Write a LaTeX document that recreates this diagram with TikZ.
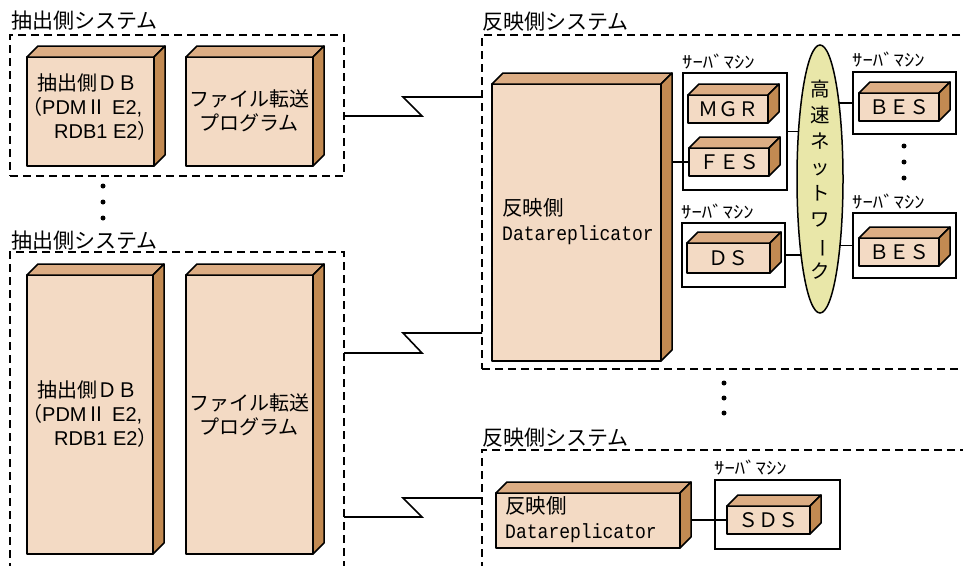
\documentclass[tikz,border=0pt]{standalone}
\usepackage{fontspec}
\setmainfont{Noto Sans CJK JP}
\newfontfamily\dmono[FakeStretch=0.88]{Liberation Mono}
\newfontfamily\lat{Liberation Sans}
\usetikzlibrary{shapes.geometric,backgrounds,calc}
\definecolor{cfront}{HTML}{F3DAC4}
\definecolor{ctop}{HTML}{DCAD84}
\definecolor{cside}{HTML}{C28A52}
\definecolor{cnet}{HTML}{E9E7A9}
\tikzset{
  cubefront/.style={rectangle,fill=cfront,draw=black,line width=1.5pt,inner sep=0pt,outer sep=0pt,line join=round},
  cubetop/.style={fill=ctop,draw=black,line width=1.5pt,line join=round},
  cubeside/.style={fill=cside,draw=black,line width=1.5pt,line join=round},
  sysbox/.style={rectangle,draw=black,line width=1.4pt,dash pattern=on 8pt off 5pt,inner sep=0pt,outer sep=0pt},
  srvbox/.style={rectangle,draw=black,line width=1.4pt,inner sep=0pt,outer sep=0pt},
  title/.style={anchor=west,inner sep=0pt,font=\fontsize{21}{24}\selectfont},
  boxtext/.style={inner sep=0pt,font=\fontsize{20}{24.5}\selectfont},
  dbtextstyle/.style={anchor=west,inner sep=0pt,align=left,font=\fontsize{20}{24}\selectfont},
  drtext/.style={anchor=west,inner sep=0pt,align=left,font=\fontsize{20.5}{25}\selectfont},
  lettext/.style={inner sep=0pt,font=\fontsize{20}{22}\selectfont},
  srvlabel/.style={anchor=west,inner sep=0pt,font=\fontsize{17}{18}\selectfont},
  conn/.style={draw=black,line width=1.6pt},
  dot/.style={circle,fill=black,inner sep=0pt,minimum size=5pt},
}
\newcommand{\cube}[5]{%
  \node[cubefront,minimum width=#4pt,minimum height=#5pt,anchor=north west] (#1) at (#2,#3) {};
  \filldraw[cubetop] (#1.north west) -- ++(11,-11) -- ++(#4,0) -- (#1.north east) -- cycle;
  \filldraw[cubeside] (#1.north east) -- ++(11,-11) -- ++(0,#5) -- (#1.south east) -- cycle;
}
\newcommand{\srvlab}{\scalebox{1.22}[1]{ｻｰﾊﾞﾏｼﾝ}}
\newcommand{\dbtext}{抽出側ＤＢ\\\hspace*{-15pt}（{\lat PDM}Ⅱ{\lat\ E2,}\\\hspace*{17pt}{\lat RDB1 E2}）}
\begin{document}
\begin{tikzpicture}[x=1pt,y=-1pt]
\useasboundingbox (0,0) rectangle (963,565);
\clip (0,0) rectangle (963,565);

% system frames
\node[sysbox,minimum width=334pt,minimum height=141pt,anchor=north west] (sysA) at (10,35) {};
\node[sysbox,minimum width=334pt,minimum height=360pt,anchor=north west] (sysB) at (10,252) {};
\node[sysbox,minimum width=540pt,minimum height=334pt,anchor=north west] (sysR1) at (482,35) {};
\node[sysbox,minimum width=540pt,minimum height=160pt,anchor=north west] (sysR2) at (482,450) {};

\node[title] (tA) at (11,21) {抽出側システム};
\node[title] (tB) at (11,241) {抽出側システム};
\node[title] (tR1) at (482,22) {反映側システム};
\node[title] (tR2) at (482,438) {反映側システム};

% server machine frames
\node[srvbox,minimum width=104pt,minimum height=117pt,anchor=north west] (srv1) at (683,73) {};
\node[srvbox,minimum width=103pt,minimum height=64pt,anchor=north west] (srv2) at (682,223) {};
\node[srvbox,minimum width=103pt,minimum height=62pt,anchor=north west] (srvb1) at (853,72) {};
\node[srvbox,minimum width=103pt,minimum height=65pt,anchor=north west] (srvb2) at (853,213) {};
\node[srvbox,minimum width=125pt,minimum height=69pt,anchor=north west] (srv3) at (715,480) {};

\node[srvlabel] (l1) at (682,62) {\srvlab};
\node[srvlabel] (l2) at (681,212) {\srvlab};
\node[srvlabel] (l3) at (852,60) {\srvlab};
\node[srvlabel] (l4) at (852,202) {\srvlab};
\node[srvlabel] (l5) at (714,468) {\srvlab};

% network
\node[ellipse,fill=cnet,draw=black,line width=1.5pt,minimum width=46pt,minimum height=268pt,inner sep=0pt] (net) at (820,179) {};
\node[inner sep=0pt,align=center,font=\fontsize{19.5}{26}\selectfont] (nettext) at (820,180)
  {高\\速\\ネ\\ッ\\ト\\ワ\\\rotatebox[origin=c]{-90}{ー}\\ク};

% cubes
\cube{db1}{27}{57}{127}{109}
\cube{fp1}{186}{57}{127}{109}
\cube{db2}{27}{275}{126}{279}
\cube{fp2}{186}{275}{127}{279}
\cube{dr1}{492}{84}{169}{277}
\cube{mgr}{688}{95}{80}{28}
\cube{fes}{689}{148}{80}{28}
\cube{ds}{687}{243}{83}{30}
\cube{bes1}{859}{93}{80}{28}
\cube{bes2}{859}{238}{80}{28}
\cube{dr2}{496}{493}{184}{55}
\cube{sds}{727}{506}{83}{28}

% cube texts
\node[dbtextstyle] (db1t) at (37,107) {\dbtext};
\node[boxtext,align=center] (fp1t) at (249,111) {ファイル転送\\プログラム};
\node[dbtextstyle] (db2t) at (37,414) {\dbtext};
\node[boxtext,align=center] (fp2t) at (249,415) {ファイル転送\\プログラム};
\node[drtext] (dr1t) at (502,222) {反映側\\{\dmono Datareplicator}};
\node[drtext] (dr2t) at (505,520) {反映側\\{\dmono Datareplicator}};
\node[lettext] (mgrt) at (mgr) {ＭＧＲ};
\node[lettext] (fest) at (fes) {ＦＥＳ};
\node[lettext] (dst) at (ds) {ＤＳ};
\node[lettext] (bes1t) at (bes1) {ＢＥＳ};
\node[lettext] (bes2t) at (bes2) {ＢＥＳ};
\node[lettext] (sdst) at (sds) {ＳＤＳ};

% dots
\node[dot] (d1) at (103,186) {};
\node[dot] (d2) at (103,202) {};
\node[dot] (d3) at (103,218) {};
\node[dot] (d4) at (724,383) {};
\node[dot] (d5) at (724,398) {};
\node[dot] (d6) at (724,413) {};
\node[dot] (d7) at (904,146) {};
\node[dot] (d8) at (904,162) {};
\node[dot] (d9) at (904,178) {};

% connectors
\begin{pgfonlayer}{background}
\fill[white] (0,0) rectangle (963,565);
\draw[conn] (sysA.east |- 0,116) -- (422,116) -- (403,97) -- (sysR1.west |- 0,97);
\draw[conn] (sysB.east |- 0,353) -- (422,353) -- (403,333) -- (sysR1.west |- 0,333);
\draw[conn] (sysB.east |- 0,517) -- (422,517) -- (403,498) -- (sysR2.west |- 0,498);
\draw[conn] (fes.west) -- (dr1.center |- fes.west);
\draw[conn] (srv1.east) -- (net.center |- srv1.east);
\draw[conn] (srv2.east) -- (net.center |- srv2.east);
\draw[conn] (srvb1.west) -- (net.center |- srvb1.west);
\draw[conn] (srvb2.west) -- (net.center |- srvb2.west);
\draw[conn] (sds.west) -- (dr2.center |- sds.west);
\end{pgfonlayer}
\end{tikzpicture}
\end{document}
